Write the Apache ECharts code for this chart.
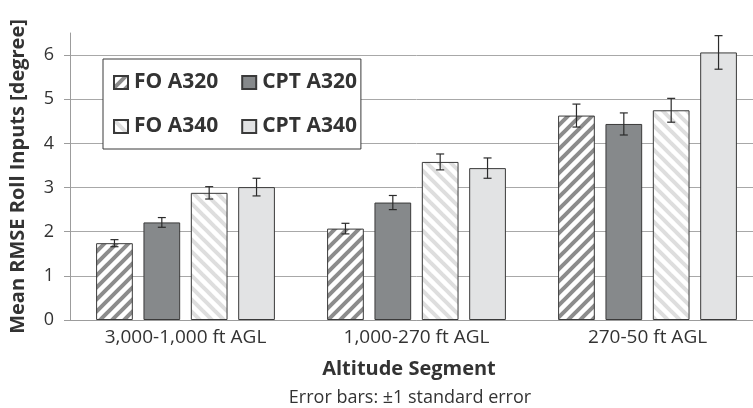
<!DOCTYPE html>
<html>
<head>
<meta charset="utf-8">
<script src="https://cdn.jsdelivr.net/npm/echarts@6/dist/echarts.min.js"></script>
<style>html,body{margin:0;padding:0;background:#fff;overflow:hidden;width:753px;height:408px;}#c{width:763px;height:408px;}</style>
</head>
<body>
<div id="c"></div>
<script>
const categories = ['3,000-1,000 ft AGL', '1,000-270 ft AGL', '270-50 ft AGL'];
const seriesNames = ['FO A320', 'CPT A320', 'FO A340', 'CPT A340'];
const foA320 = [1.74, 2.07, 4.63];
const foA320SE = [0.08, 0.12, 0.26];
const cptA320 = [2.21, 2.66, 4.44];
const cptA320SE = [0.11, 0.16, 0.25];
const foA340 = [2.88, 3.58, 4.75];
const foA340SE = [0.14, 0.18, 0.27];
const cptA340 = [3.01, 3.44, 6.06];
const cptA340SE = [0.20, 0.23, 0.38];
const yTicks = [0, 1, 2, 3, 4, 5, 6];

const FONT = 'Open Sans';
const TXT = '#333333';

function stripes(color, dir) {
  const s = 12;
  const c = document.createElement('canvas');
  c.width = s; c.height = s;
  const g = c.getContext('2d');
  g.fillStyle = '#ffffff';
  g.fillRect(0, 0, s, s);
  g.strokeStyle = color;
  g.lineWidth = 4;
  g.lineCap = 'square';
  const segs = dir === 'up'
    ? [[-s, s, s, -s], [0, s, s, 0], [0, 2 * s, 2 * s, 0]]
    : [[-s, 0, s, 2 * s], [0, 0, s, s], [0, -s, 2 * s, s]];
  segs.forEach(function (p) { g.beginPath(); g.moveTo(p[0], p[1]); g.lineTo(p[2], p[3]); g.stroke(); });
  return { image: c, repeat: 'repeat' };
}

const fills = [stripes('#8c8c8c', 'up'), '#86898b', stripes('#dedede', 'down'), '#e2e3e4'];
const values = [foA320, cptA320, foA340, cptA340];
const errs = [foA320SE, cptA320SE, foA340SE, cptA340SE];
const CAT_GAP = 0.226, BAR_GAP = 0.29;

const series = [];
values.forEach(function (v, i) {
  series.push({
    name: seriesNames[i], type: 'bar', data: v,
    barCategoryGap: (CAT_GAP * 100) + '%', barGap: (BAR_GAP * 100) + '%',
    itemStyle: { color: fills[i], borderColor: '#3a3a3a', borderWidth: 1 },
    emphasis: { disabled: true }, silent: true
  });
});
values.forEach(function (v, i) {
  series.push({
    name: seriesNames[i] + ' SE', type: 'custom', silent: true, z: 5,
    data: v.map(function (val, k) { return [k, val, errs[i][k]]; }),
    renderItem: function (params, api) {
      const k = api.value(0), val = api.value(1), se = api.value(2);
      const band = api.size([1, 0])[0];
      const inner = band * (1 - CAT_GAP);
      const bw = inner / (4 + 3 * BAR_GAP);
      const off = -inner / 2 + bw / 2 + i * bw * (1 + BAR_GAP);
      const hi = api.coord([k, val + se]);
      const lo = api.coord([k, val - se]);
      const x = hi[0] + off;
      const st = { stroke: '#2b2b2b', lineWidth: 1.2 };
      return { type: 'group', children: [
        { type: 'line', shape: { x1: x, y1: hi[1], x2: x, y2: lo[1] }, style: st },
        { type: 'line', shape: { x1: x - 4, y1: hi[1], x2: x + 4, y2: hi[1] }, style: st },
        { type: 'line', shape: { x1: x - 4, y1: lo[1], x2: x + 4, y2: lo[1] }, style: st }
      ] };
    }
  });
});

const chart = echarts.init(document.getElementById('c'), null, { renderer: 'canvas', width: 763, height: 408 });
chart.setOption({
  animation: false,
  backgroundColor: '#ffffff',
  textStyle: { fontFamily: FONT },
  grid: { left: 69, right: 0, top: 33, bottom: 88, containLabel: false },
  title: [
    { text: 'Altitude Segment', left: 409, top: 359, textAlign: 'center', padding: 0,
      textStyle: { fontFamily: FONT, fontSize: 20, fontWeight: 'bold', color: TXT } },
    { text: 'Error bars: \u00b11 standard error', left: 410, top: 389, textAlign: 'center', padding: 0,
      textStyle: { fontFamily: FONT, fontSize: 18, fontWeight: 'normal', color: TXT } }
  ],
  legend: {
    data: seriesNames, left: 103, top: 59, width: 250,
    orient: 'horizontal', itemGap: 23, itemWidth: 14, itemHeight: 13, icon: 'rect',
    padding: [13, 4, 12, 10], backgroundColor: '#ffffff', borderColor: '#3a3a3a', borderWidth: 1,
    textStyle: { fontFamily: FONT, fontSize: 21, fontWeight: 'bold', color: TXT, padding: [0, 0, 0, 1] },
    selectedMode: false
  },
  xAxis: {
    type: 'category', data: categories,
    axisLine: { lineStyle: { color: '#9c9c9c', width: 1 } },
    axisTick: { show: false },
    axisLabel: { fontFamily: FONT, fontSize: 19, color: TXT, margin: 8 },
    splitLine: { show: false }
  },
  yAxis: {
    type: 'value', min: 0, max: 6.5, interval: 1,
    name: 'Mean RMSE Roll Inputs [degree]', nameLocation: 'middle', nameGap: 42,
    nameTextStyle: { fontFamily: FONT, fontSize: 20, fontWeight: 'bold', color: TXT },
    axisLine: { show: true, lineStyle: { color: '#9c9c9c', width: 1 } },
    axisTick: { show: true, length: 6, customValues: yTicks, lineStyle: { color: '#9c9c9c' } },
    axisLabel: { fontFamily: FONT, fontSize: 18, color: TXT, margin: 16, customValues: yTicks },
    splitLine: { show: true, lineStyle: { color: '#a8a8a8', width: 1 } }
  },
  series: series
});
</script>
</body>
</html>
